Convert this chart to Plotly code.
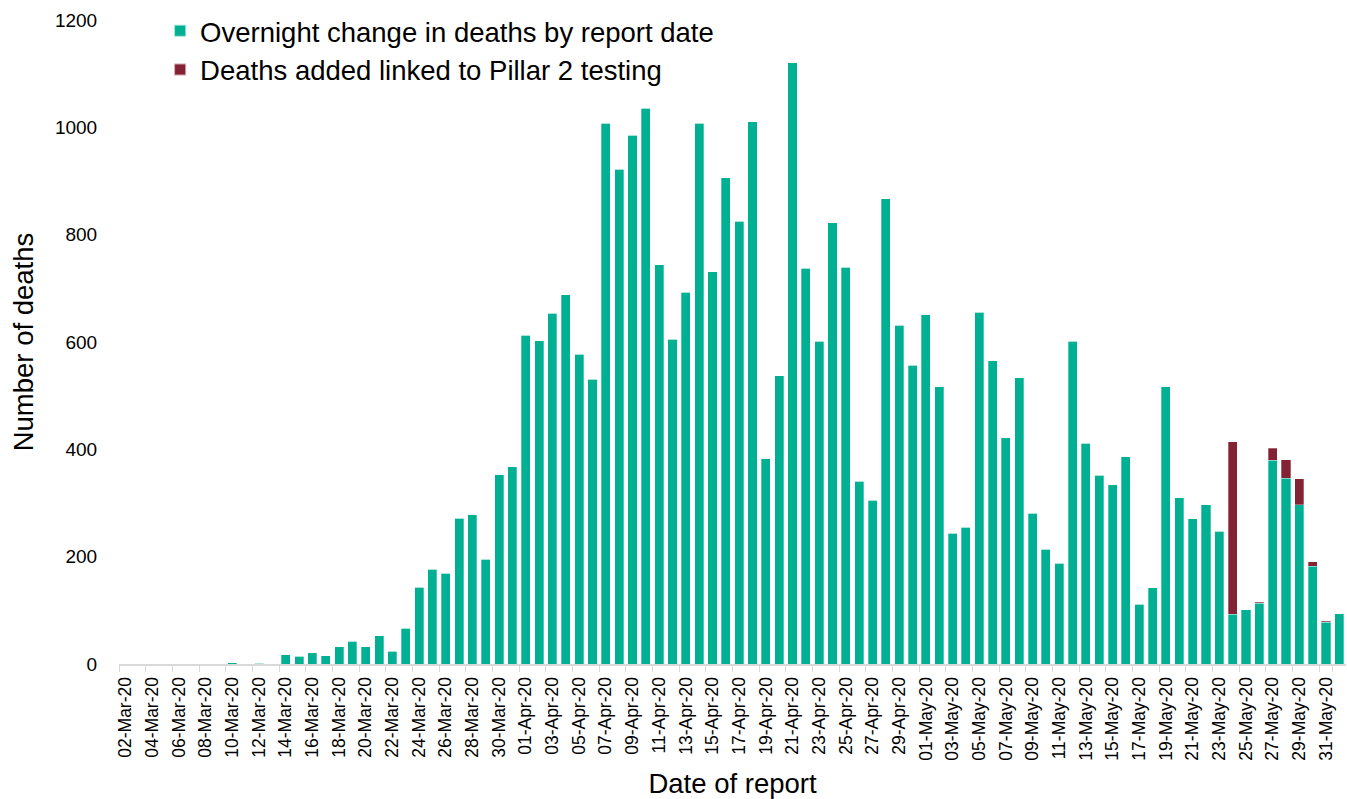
import datetime as dt
import plotly.graph_objects as go

start = dt.date(2020, 3, 2)
dates = [(start + dt.timedelta(days=i)).strftime("%d-%b-%y") for i in range(92)]

overnight = [
    0, 0, 0, 0, 0, 0, 0, 0, 2, 0, 1, 0,            # 02-13 Mar
    17, 14, 21, 15, 32, 42, 32, 53, 24, 67,        # 14-23 Mar
    143, 177, 169, 272, 278, 195, 353, 368,        # 24-31 Mar
    613, 602, 654, 688, 577, 531, 1008, 922, 985, 1036,   # 01-10 Apr
    744, 605, 693, 1008, 731, 906, 825, 1010, 382, 537,   # 11-20 Apr
    1120, 737, 601, 822, 739, 341, 305, 867, 631, 557,    # 21-30 Apr
    651, 517, 244, 255, 655, 565, 422, 533, 281, 214,     # 01-10 May
    188, 601, 411, 352, 334, 386, 111, 142, 517, 310,     # 11-20 May
    271, 297, 247, 93, 101, 113, 380, 346, 297, 182,      # 21-30 May
    78, 94,                                                # 31 May, 01 Jun
]

pillar2 = [0] * 83 + [321, 0, 2, 22, 35, 48, 9, 2, 0]

tickvals = dates[::2]

fig = go.Figure()
fig.add_trace(go.Bar(
    x=dates, y=overnight, name="Overnight change in deaths by report date",
    marker=dict(color="#00B092", line=dict(color="rgba(255,255,255,0.6)", width=0.5)),
))
fig.add_trace(go.Bar(
    x=dates, y=pillar2, name="Deaths added linked to Pillar 2 testing",
    marker=dict(color="#832232", line=dict(color="rgba(255,255,255,0.6)", width=0.5)),
))

fig.update_layout(
    barmode="stack",
    bargap=0.32,
    width=1347, height=799,
    margin=dict(l=119, r=1, t=20, b=135, autoexpand=False),
    plot_bgcolor="white", paper_bgcolor="white",
    font=dict(family="Liberation Sans, Arial, sans-serif", color="#000000"),
    legend=dict(
        x=0.0335, y=1.021, xanchor="left", yanchor="top",
        traceorder="normal",
        font=dict(size=27.5), bgcolor="rgba(0,0,0,0)",
        tracegroupgap=0, itemsizing="constant",
    ),
    xaxis=dict(
        type="category", range=[-0.5, 91.5], automargin=False,
        tickmode="array", tickvals=tickvals, ticktext=tickvals,
        tickangle=-90, tickfont=dict(size=17.5),
        ticks="outside", tickson="boundaries", ticklen=6, tickcolor="#d9d9d9",
        ticklabelstandoff=4,
        showline=True, linecolor="#d9d9d9", linewidth=2,
        showgrid=False,
        title=dict(text="Date of report", font=dict(size=27.5), standoff=18),
    ),
    yaxis=dict(
        range=[0, 1200], tickvals=[0, 200, 400, 600, 800, 1000, 1200],
        tickfont=dict(size=19), automargin=False,
        showgrid=False, zeroline=False, showline=False,
        ticks="outside", ticklen=17, tickcolor="rgba(0,0,0,0)",
        title=dict(text="Number of deaths", font=dict(size=27.5), standoff=13),
    ),
)

fig.write_html(
    "out.html",
    config={"displayModeBar": False},
    post_script="document.body.style.margin='0';document.body.style.overflow='hidden';",
)
